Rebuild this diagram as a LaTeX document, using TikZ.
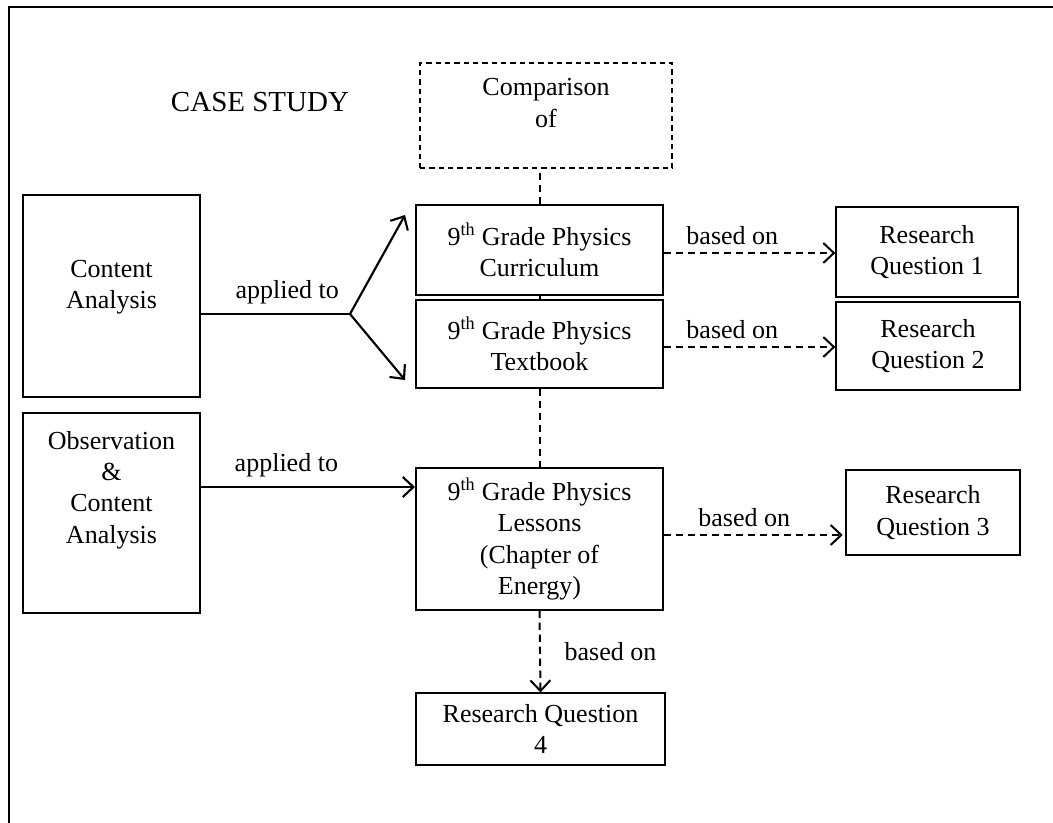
\documentclass[tikz,border=0pt]{standalone}
\usepackage{fontspec}
\setmainfont{Liberation Serif}
\usetikzlibrary{arrows.meta,calc}

\tikzset{every picture/.style={line width=0.75pt}}
\tikzset{
  txtfont/.style={font=\fontsize{19.5}{23.5}\selectfont},
  box/.style={draw, line width=0.9pt, align=center, inner sep=0.75pt, txtfont},
  dashbox/.style={box, dash pattern={on 4pt off 3pt}},
  lbl/.style={txtfont, inner sep=0.75pt},
  solidarr/.style={line width=1.6pt, -{Straight Barb[length=8pt,width=15pt]}},
  basedarr/.style={line width=1.5pt, dash pattern={on 5.5pt off 3.5pt}, -{Straight Barb[length=8pt,width=15pt]}},
  linkline/.style={line width=1.5pt, dash pattern={on 5.5pt off 3.5pt}}
}

\begin{document}
\begin{tikzpicture}[x=0.75pt,y=0.75pt,yscale=-1,xscale=1]
		\useasboundingbox (0,0) rectangle (1053,823);

		%Straight Lines [frame]
		\draw [line width=1.5pt]  (9,823) -- (9,7) -- (1053,7) ;

		% Text Node
		\node [font=\fontsize{21.75}{26}\selectfont, inner sep=0.75pt] (title) at (260,102) {CASE STUDY};

		%Shape: Rectangle [comparison]
		\node [dashbox, minimum width=189pt, minimum height=78.75pt] (cmp) at (546,115.5) {};
		\node [lbl, align=center] (cmp-t) at (546,103) {Comparison\\of};
		%Shape: Rectangle [curriculum]
		\node [box, minimum width=185.25pt, minimum height=67.5pt] (cur) at (539.5,250) {9\textsuperscript{th} Grade Physics\\Curriculum};
		%Shape: Rectangle [textbook]
		\node [box, minimum width=185.25pt, minimum height=66pt] (tbk) at (539.5,344) {9\textsuperscript{th} Grade Physics\\Textbook};
		%Shape: Rectangle [lessons]
		\node [box, minimum width=185.25pt, minimum height=106.5pt] (les) at (539.5,539) {9\textsuperscript{th} Grade Physics\\Lessons\\(Chapter of\\Energy)};
		%Shape: Rectangle [rq 4]
		\node [box, minimum width=186.75pt, minimum height=54pt] (rq4) at (540.5,729) {Research Question\\4};

		%Shape: Rectangle [content analysis]
		\node [box, minimum width=132.75pt, minimum height=151.5pt] (ca) at (111.5,296) {};
		\node [lbl, align=center] (ca-t) at (111.5,287.5) {Content\\Analysis};
		%Shape: Rectangle [observation]
		\node [box, minimum width=132.75pt, minimum height=150pt] (obs) at (111.5,513) {};
		\node [lbl, align=center] (obs-t) at (111.5,490) {Observation\\\&\\Content\\Analysis};

		%Shape: Rectangle [rq 1-3]
		\node [box, minimum width=136.5pt, minimum height=67.5pt] (rq1) at (927,252) {Research\\Question 1};
		\node [box, minimum width=138pt, minimum height=66pt] (rq2) at (928,346) {Research\\Question 2};
		\node [box, minimum width=130.5pt, minimum height=63.75pt] (rq3) at (933,512.5) {Research\\Question 3};

		%Straight Lines [dashed links]
		\draw [linkline]  (cur.north) -- (cur.north |- cmp.south) ;
		\draw [linkline]  (cur.south) -- (tbk.north) ;
		\draw [linkline]  (tbk.south) -- (les.north) ;

		%Straight Lines [applied to, fork]
		\coordinate (fork) at (350,314) ;
		\coordinate (up) at (405,215) ;
		\coordinate (dn) at (405,380) ;
		\draw [line width=1.6pt]  (fork -| ca.east) -- (fork) node [lbl, pos=0.58, above=6pt] (ap1) {applied to} ;
		\draw [solidarr]  (fork) -- (up) ;
		\draw [solidarr]  (fork) -- (dn) ;

		%Straight Lines [applied to, lessons]
		\coordinate (ap2end) at (415,487) ;
		\draw [solidarr]  (ap2end -| obs.east) -- (ap2end) node [lbl, pos=0.4, above=6pt] (ap2) {applied to} ;

		%Straight Lines [based on]
		\draw [basedarr]  ([yshift=2.25pt]cur.east) -- ([yshift=2.25pt]cur.east -| rq1.west) node [lbl, pos=0.4, above=5pt] (b1) {based on} ;
		\draw [basedarr]  ([yshift=2.25pt]tbk.east) -- ([yshift=2.25pt]tbk.east -| rq2.west) node [lbl, pos=0.4, above=5pt] (b2) {based on} ;
		\draw [basedarr]  ([yshift=-3pt]les.east) -- ([yshift=-3pt,xshift=-2pt]les.east -| rq3.west) node [lbl, pos=0.45, above=5pt] (b3) {based on} ;
		\draw [basedarr]  (les.south) -- (rq4.north) node [lbl, midway, right=17pt] (b4) {based on} ;
\end{tikzpicture}
\end{document}
